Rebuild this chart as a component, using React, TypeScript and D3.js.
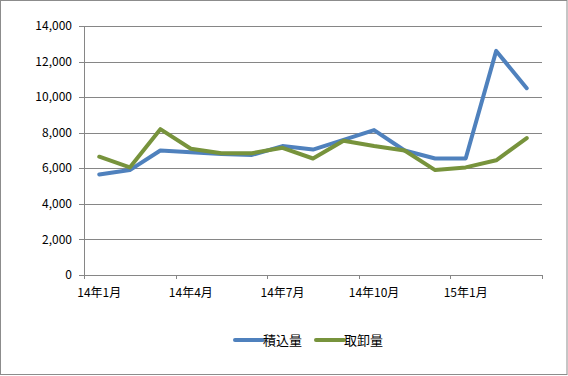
import React from "react";
import * as d3 from "d3";

const months = [
  "14年1月", "14年2月", "14年3月", "14年4月", "14年5月", "14年6月", "14年7月", "14年8月",
  "14年9月", "14年10月", "14年11月", "14年12月", "15年1月", "15年2月", "15年3月",
];
const loading = [5650, 5900, 7000, 6900, 6800, 6750, 7250, 7050, 7600, 8150, 7000, 6550, 6550, 12600, 10500];
const unloading = [6650, 6050, 8200, 7100, 6850, 6850, 7150, 6550, 7550, 7250, 7000, 5900, 6050, 6450, 7700];
const yTicks = [0, 2000, 4000, 6000, 8000, 10000, 12000, 14000];
const seriesNames = ["積込量", "取卸量"];
const colors = ["#4F81BD", "#77933C"];

const W = 568;
const H = 376;
const left = 84;
const right = 542;
const top = 26;
const bottom = 275;
const font = "'Noto Sans CJK JP', 'Noto Sans', sans-serif";

export default function App() {
  const x = d3.scaleBand<string>().domain(months).range([left, right]).padding(0);
  const y = d3.scaleLinear().domain([0, 14000]).range([bottom, top]);
  const line = d3
    .line<number>()
    .x((_, i) => (x(months[i]) as number) + x.bandwidth() / 2)
    .y((d) => y(d));
  const fmt = d3.format(",");
  const tickIdx = [0, 3, 6, 9, 12, 15];
  const series = [loading, unloading];

  return (
    <svg
      width={W}
      height={H}
      style={{ position: "fixed", left: 0, top: 0, background: "#fff" }}
      fontFamily={font}
    >
      <rect x={0.5} y={0.5} width={566.5} height={374} fill="#fff" stroke="#8c8c8c" />
      {yTicks.map((t) => (
        <g key={t}>
          <line
            x1={left - 5}
            x2={right}
            y1={Math.round(y(t)) + 0.5}
            y2={Math.round(y(t)) + 0.5}
            stroke="#868686"
          />
          <text x={72} y={y(t)} dy="0.35em" textAnchor="end" fontSize={12} fill="#000">
            {fmt(t)}
          </text>
        </g>
      ))}
      <line x1={left + 0.5} x2={left + 0.5} y1={top} y2={bottom} stroke="#868686" />
      {tickIdx.map((i) => {
        const xx = i < months.length ? (x(months[i]) as number) : right;
        return (
          <line
            key={i}
            x1={Math.round(xx) + 0.5}
            x2={Math.round(xx) + 0.5}
            y1={bottom}
            y2={bottom + 4}
            stroke="#868686"
          />
        );
      })}
      {tickIdx
        .filter((i) => i < months.length)
        .map((i) => (
          <text
            key={months[i]}
            x={(x(months[i]) as number) + x.bandwidth() / 2}
            y={293}
            dy="0.35em"
            textAnchor="middle"
            fontSize={12}
            fill="#000"
          >
            {months[i]}
          </text>
        ))}
      {series.map((s, k) => (
        <path
          key={k}
          d={line(s) as string}
          fill="none"
          stroke={colors[k]}
          strokeWidth={4}
          strokeLinejoin="round"
          strokeLinecap="round"
        />
      ))}
      {seriesNames.map((n, k) => {
        const lx = k === 0 ? 235 : 316;
        return (
          <g key={n}>
            <line x1={lx} x2={lx + 28} y1={340} y2={340} stroke={colors[k]} strokeWidth={4} strokeLinecap="round" />
            <text x={lx + 28} y={340} dy="0.35em" fontSize={13} fill="#000">
              {n}
            </text>
          </g>
        );
      })}
    </svg>
  );
}
